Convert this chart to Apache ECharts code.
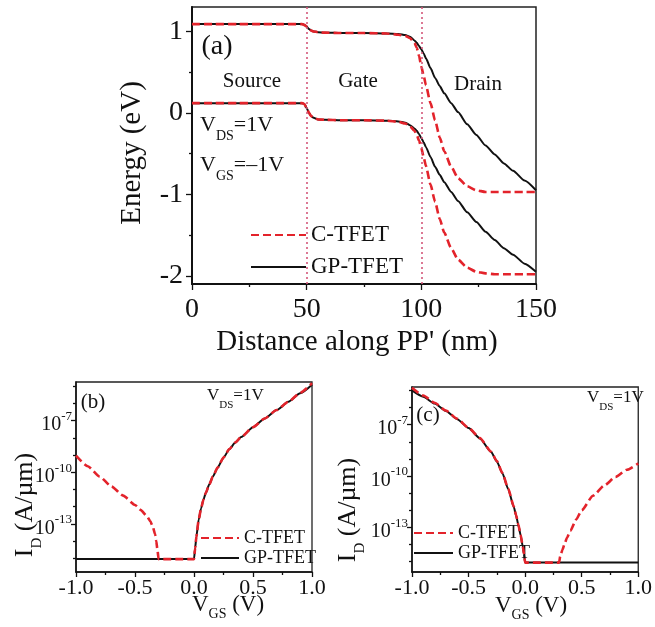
<!DOCTYPE html>
<html><head><meta charset="utf-8">
<script src="https://cdn.jsdelivr.net/npm/echarts@6/dist/echarts.min.js"></script>
<style>html,body{margin:0;padding:0;background:#fff}#c{width:655px;height:627px}</style>
</head><body><div id="c"></div>
<script>
// ---------- Panel (a): band diagram ----------
const distance = [0,10,20,30,40,48,49,50,51,52,53,55,58,65,75,85,90,93,95,97,98,99,100,101,102,104,106,108,110,113,116,120,124,128,132,136,140,145,150];
const cbC  = [1.09,1.09,1.09,1.09,1.09,1.09,1.08,1.06,1.03,1.01,1.00,0.99,0.985,0.98,0.98,0.975,0.96,0.945,0.92,0.86,0.80,0.70,0.57,0.46,0.34,0.12,-0.09,-0.30,-0.47,-0.66,-0.80,-0.90,-0.95,-0.97,-0.97,-0.97,-0.97,-0.97,-0.97];
const cbGP = [1.09,1.09,1.09,1.09,1.09,1.09,1.08,1.06,1.03,1.01,1.00,0.99,0.985,0.98,0.98,0.975,0.97,0.955,0.935,0.89,0.86,0.82,0.78,0.73,0.67,0.55,0.43,0.33,0.24,0.12,0.01,-0.14,-0.27,-0.40,-0.51,-0.62,-0.71,-0.83,-0.95];
const vbC  = [0.12,0.12,0.12,0.12,0.12,0.12,0.11,0.06,0.0,-0.04,-0.06,-0.08,-0.085,-0.09,-0.09,-0.095,-0.11,-0.13,-0.16,-0.22,-0.27,-0.34,-0.43,-0.54,-0.65,-0.88,-1.09,-1.30,-1.47,-1.66,-1.80,-1.90,-1.95,-1.97,-1.98,-1.98,-1.98,-1.98,-1.98];
const vbGP = [0.12,0.12,0.12,0.12,0.12,0.12,0.11,0.06,0.0,-0.04,-0.06,-0.08,-0.085,-0.09,-0.09,-0.095,-0.105,-0.12,-0.15,-0.19,-0.22,-0.26,-0.31,-0.36,-0.42,-0.54,-0.66,-0.76,-0.85,-0.97,-1.08,-1.22,-1.34,-1.46,-1.56,-1.66,-1.74,-1.85,-1.95];
const regionBounds = [50, 100];
const yTicksA = [-2, -1, 0, 1];
const yMinorA = [-1.5, -0.5, 0.5];

// ---------- Panel (b): log10 of I_D (A/um) ----------
const vgsB = [-1.0,-0.9,-0.8,-0.7,-0.6,-0.5,-0.45,-0.4,-0.37,-0.35,-0.33,-0.32,-0.31,-0.3,-0.2,-0.1,0,0.01,0.02,0.04,0.06,0.08,0.1,0.13,0.16,0.2,0.25,0.3,0.35,0.4,0.5,0.6,0.7,0.8,0.9,1.0];
const logIdB_C  = [-9.03,-9.65,-10.25,-10.82,-11.36,-11.9,-12.2,-12.55,-12.85,-13.15,-13.6,-14.0,-14.5,-15.05,-15.05,-15.05,-15.05,-14.4,-13.75,-12.75,-12.1,-11.6,-11.2,-10.7,-10.25,-9.73,-9.15,-8.65,-8.27,-7.95,-7.38,-6.87,-6.38,-5.9,-5.38,-4.82];
const logIdB_GP = [-15.05,-15.05,-15.05,-15.05,-15.05,-15.05,-15.05,-15.05,-15.05,-15.05,-15.05,-15.05,-15.05,-15.05,-15.05,-15.05,-15.05,-14.4,-13.75,-12.75,-12.1,-11.6,-11.2,-10.7,-10.25,-9.73,-9.15,-8.65,-8.27,-7.95,-7.38,-6.87,-6.38,-5.9,-5.41,-4.91];

// ---------- Panel (c) ----------
const vgsC = [-1.0,-0.9,-0.8,-0.7,-0.6,-0.5,-0.4,-0.3,-0.25,-0.2,-0.15,-0.1,-0.08,-0.06,-0.04,-0.02,-0.01,0,0.1,0.2,0.3,0.31,0.33,0.35,0.37,0.4,0.45,0.5,0.6,0.7,0.8,0.9,1.0];
const logIdC_C  = [-4.85,-5.3,-5.72,-6.17,-6.66,-7.18,-7.78,-8.58,-9.13,-9.83,-10.73,-11.78,-12.28,-12.83,-13.43,-14.13,-14.53,-15.05,-15.05,-15.05,-15.05,-14.7,-14.3,-13.95,-13.6,-13.2,-12.55,-12.0,-11.15,-10.55,-10.05,-9.63,-9.26];
const logIdC_GP = [-5.0,-5.37,-5.77,-6.2,-6.68,-7.2,-7.8,-8.6,-9.15,-9.85,-10.75,-11.8,-12.3,-12.85,-13.45,-14.15,-14.55,-15.05,-15.05,-15.05,-15.05,-15.05,-15.05,-15.05,-15.05,-15.05,-15.05,-15.05,-15.05,-15.05,-15.05,-15.05,-15.05];

const logTicks = [-13, -10, -7];
const logMinor = [-15, -14, -12, -11, -9, -8, -6, -5];
const seriesNames = ['C-TFET', 'GP-TFET'];

const F = 'Liberation Serif';
const INK = '#111';
const RED = '#e3232b';
const pairs = (xs, ys) => xs.map((x, i) => [x, ys[i]]);

const redLine = { color: RED, width: 2.6, type: [8, 4] };
const blackLine = { color: INK, width: 2 };

function subRich(base, s, k) {
  k = k || 0.7;
  return {
    v: { fontSize: base, fontFamily: F, fill: INK, lineHeight: base + 2, verticalAlign: 'top' },
    s: { fontSize: s, fontFamily: F, fill: INK, lineHeight: s, padding: [Math.round(base * k), 0, 0, 0], verticalAlign: 'top' }
  };
}
function txt(x, y, text, size, opts) {
  opts = opts || {};
  return {
    type: 'text', x: x, y: y, rotation: opts.rot || 0, z: 50,
    style: {
      text: text, fontSize: size, fontFamily: F, fill: INK,
      align: opts.align || 'center', verticalAlign: 'middle',
      rich: opts.rich
    }
  };
}

const supRich = {
  b: { fontSize: 20, fontFamily: F, color: INK, lineHeight: 21, padding: [5, 0, 0, 0], verticalAlign: 'top' },
  s: { fontSize: 13, fontFamily: F, color: INK, lineHeight: 13, verticalAlign: 'top' }
};

function xAxisCfg(grid, min, max, interval, fontSize, margin, fmt, tickLen, lw) {
  return {
    gridIndex: grid, type: 'value', min: min, max: max, interval: interval,
    axisLine: { onZero: false, lineStyle: { color: INK, width: lw } },
    axisTick: { length: tickLen, lineStyle: { color: INK, width: 1.3 } },
    minorTick: { show: true, splitNumber: 2, length: Math.round(tickLen / 2), lineStyle: { color: INK, width: 1.3 } },
    splitLine: { show: false },
    axisLabel: { fontFamily: F, fontSize: fontSize, color: INK, margin: margin, formatter: fmt }
  };
}
function yMajor(grid, min, max, ticks, label, tickLen, lw) {
  return {
    gridIndex: grid, type: 'value', min: min, max: max, position: 'left',
    axisLine: { onZero: false, lineStyle: { color: INK, width: lw } },
    axisTick: { customValues: ticks, length: tickLen, lineStyle: { color: INK, width: 1.3 } },
    splitLine: { show: false },
    axisLabel: Object.assign({ customValues: ticks, fontFamily: F, color: INK }, label)
  };
}
function yMinor(grid, min, max, ticks, tickLen) {
  return {
    gridIndex: grid, type: 'value', min: min, max: max, position: 'left',
    axisLine: { show: false, onZero: false },
    axisTick: { customValues: ticks, length: tickLen, lineStyle: { color: INK, width: 1.3 } },
    splitLine: { show: false },
    axisLabel: { show: false }
  };
}
function legendCfg(left, top, itemW, fontSize, lh, gap) {
  return {
    left: left, top: top, orient: 'vertical', padding: 0, itemGap: gap,
    itemWidth: itemW, itemHeight: 12, selectedMode: false, data: seriesNames,
    itemStyle: { opacity: 0 },
    textStyle: { fontFamily: F, fontSize: fontSize, color: INK, lineHeight: lh }
  };
}
function lineSeries(name, xi, yi, data, style, extra) {
  return Object.assign({
    name: name, type: 'line', xAxisIndex: xi, yAxisIndex: yi, data: data,
    symbol: 'none', smooth: 0.2, smoothMonotone: 'x', lineStyle: style, z: name === 'C-TFET' ? 4 : 3
  }, extra || {});
}

const logFmt = v => '{b|10}{s|' + v + '}';

const option = {
  animation: false,
  backgroundColor: '#fff',
  grid: [
    { left: 192, top: 7, width: 344, height: 277, show: true, borderColor: '#222', borderWidth: 1.5, backgroundColor: 'transparent' },
    { left: 76, top: 382, width: 236, height: 190, show: true, borderColor: '#222', borderWidth: 1.3, backgroundColor: 'transparent' },
    { left: 412, top: 387, width: 231, height: 185, show: true, borderColor: '#222', borderWidth: 1.3, backgroundColor: 'transparent' }
  ],
  xAxis: [
    xAxisCfg(0, 0, 150, 50, 28, 12, null, 6, 2),
    xAxisCfg(1, -1, 1, 0.5, 22, 5, v => v.toFixed(1), 5, 1.5),
    xAxisCfg(2, -1, 1, 0.5, 22, 5, v => v.toFixed(1), 5, 1.5)
  ],
  yAxis: [
    yMajor(0, -2.1, 1.3, yTicksA, { fontSize: 28, margin: 9 }, 6, 2),
    yMinor(0, -2.1, 1.3, yMinorA, 3),
    yMajor(1, -15.8, -4.75, logTicks, { margin: 4, formatter: logFmt, rich: supRich }, 5, 1.5),
    yMinor(1, -15.8, -4.75, logMinor, 3),
    yMajor(2, -15.6, -4.8, logTicks, { margin: 4, formatter: logFmt, rich: supRich }, 5, 1.5),
    yMinor(2, -15.6, -4.8, logMinor, 3)
  ],
  legend: [
    legendCfg(250, 222, 55, 23, 26, 6),
    legendCfg(200, 528, 38, 18, 20, 0),
    legendCfg(413, 523, 39, 18, 20, 0)
  ],
  series: [
    lineSeries('GP-TFET', 0, 0, pairs(distance, cbGP), blackLine, {
      markLine: {
        silent: true, symbol: 'none', label: { show: false },
        lineStyle: { type: [2, 3], color: '#d4587a', width: 1.6 },
        data: regionBounds.map(v => ({ xAxis: v }))
      }
    }),
    lineSeries('GP-TFET', 0, 0, pairs(distance, vbGP), blackLine),
    lineSeries('C-TFET', 0, 0, pairs(distance, cbC), redLine),
    lineSeries('C-TFET', 0, 0, pairs(distance, vbC), redLine),
    lineSeries('GP-TFET', 1, 2, pairs(vgsB, logIdB_GP), blackLine),
    lineSeries('C-TFET', 1, 2, pairs(vgsB, logIdB_C), redLine),
    lineSeries('GP-TFET', 2, 4, pairs(vgsC, logIdC_GP), blackLine),
    lineSeries('C-TFET', 2, 4, pairs(vgsC, logIdC_C), redLine)
  ],
  graphic: [
    txt(357, 342, "Distance along PP' (nm)", 29),
    txt(132, 153, 'Energy (eV)', 29, { rot: Math.PI / 2 }),
    txt(217, 47, '(a)', 28),
    txt(252, 81, 'Source', 21),
    txt(358, 81, 'Gate', 21),
    txt(478, 84, 'Drain', 21),
    txt(200, 126, '{v|V}{s|DS}{v|=1V}', 22, { align: 'left', rich: subRich(22, 14) }),
    txt(200, 166, '{v|V}{s|GS}{v|=\u20131V}', 22, { align: 'left', rich: subRich(22, 14) }),

    txt(93, 402, '(b)', 21),
    txt(207, 397, '{v|V}{s|DS}{v|=1V}', 17, { align: 'left', rich: subRich(17, 11) }),
    txt(228, 606, '{v|V}{s|GS}{v| (V)}', 23, { rich: subRich(23, 14, 0.6) }),
    txt(26, 505, '{v|I}{s|D}{v| (A/\u00b5m)}', 26, { rot: Math.PI / 2, rich: subRich(26, 15) }),

    txt(428, 415, '(c)', 21),
    txt(587, 399, '{v|V}{s|DS}{v|=1V}', 17, { align: 'left', rich: subRich(17, 11) }),
    txt(531, 607, '{v|V}{s|GS}{v| (V)}', 23, { rich: subRich(23, 14, 0.6) }),
    txt(349, 510, '{v|I}{s|D}{v| (A/\u00b5m)}', 26, { rot: Math.PI / 2, rich: subRich(26, 15) })
  ]
};

const chart = echarts.init(document.getElementById('c'), null, { renderer: 'canvas' });
chart.setOption(option);
</script>
</body></html>
